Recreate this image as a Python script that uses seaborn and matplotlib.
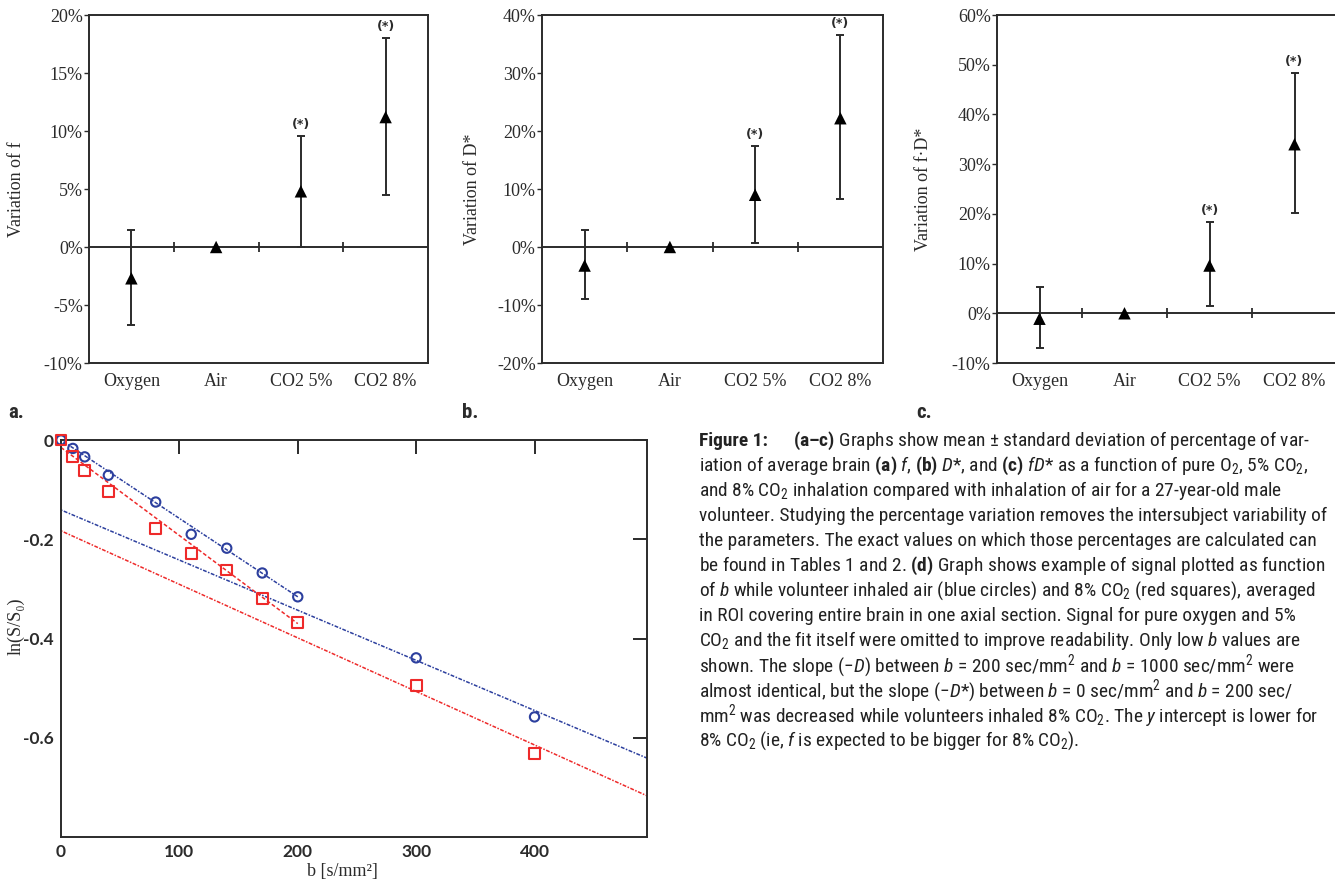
import matplotlib
matplotlib.use('Agg')
import matplotlib.pyplot as plt
import seaborn as sns
import pandas as pd
from matplotlib import font_manager as fm
from matplotlib.ticker import FuncFormatter, MultipleLocator

# ---- panels a-c : percentage variation vs. inhaled gas ----
conditions = ['Oxygen', 'Air', 'CO2 5%', 'CO2 8%']
significant = [False, False, True, True]

f_mean = [-2.7, 0.0, 4.8, 11.2]
f_low = [-6.7, 0.0, 0.0, 4.5]
f_high = [1.5, 0.0, 9.6, 18.0]

dstar_mean = [-3.2, 0.0, 9.0, 22.2]
dstar_low = [-9.0, 0.0, 0.7, 8.2]
dstar_high = [3.0, 0.0, 17.5, 36.5]

fdstar_mean = [-1.1, 0.0, 9.6, 34.0]
fdstar_low = [-6.9, 0.0, 1.5, 20.2]
fdstar_high = [5.2, 0.0, 18.3, 48.4]

# ---- panel d : ln(S/S0) vs b ----
b_values = [0, 10, 20, 40, 80, 110, 140, 170, 200, 300, 400]
ln_air = [0.0, -0.017, -0.034, -0.071, -0.125, -0.190, -0.218, -0.268, -0.316, -0.439, -0.558]
ln_co2 = [0.0, -0.034, -0.061, -0.104, -0.178, -0.228, -0.262, -0.320, -0.368, -0.494, -0.631]

# fitted lines (end points)
fit_b_low = [0, 200]
fit_air_low = [0.0, -0.316]
fit_co2_low = [-0.015, -0.370]
fit_b_high = [0, 495]
fit_air_high = [-0.141, -0.641]
fit_co2_high = [-0.183, -0.717]

caption_head = 'Figure 1:'
caption_lines = [
    r"$\mathbf{(a–c)}$ Graphs show mean ± standard deviation of percentage of var-",
    r"iation of average brain $\mathbf{(a)}$ $\mathit{f}$, $\mathbf{(b)}$ $\mathit{D}$*, and $\mathbf{(c)}$ $\mathit{fD}$* as a function of pure O$_2$, 5% CO$_2$,",
    r"and 8% CO$_2$ inhalation compared with inhalation of air for a 27-year-old male",
    r"volunteer. Studying the percentage variation removes the intersubject variability of",
    r"the parameters. The exact values on which those percentages are calculated can",
    r"be found in Tables 1 and 2. $\mathbf{(d)}$ Graph shows example of signal plotted as function",
    r"of $\mathit{b}$ while volunteer inhaled air (blue circles) and 8% CO$_2$ (red squares), averaged",
    r"in ROI covering entire brain in one axial section. Signal for pure oxygen and 5%",
    r"CO$_2$ and the fit itself were omitted to improve readability. Only low $\mathit{b}$ values are",
    r"shown. The slope (−$\mathit{D}$) between $\mathit{b}$ = 200 sec/mm$^2$ and $\mathit{b}$ = 1000 sec/mm$^2$ were",
    r"almost identical, but the slope (−$\mathit{D}$*) between $\mathit{b}$ = 0 sec/mm$^2$ and $\mathit{b}$ = 200 sec/",
    r"mm$^2$ was decreased while volunteers inhaled 8% CO$_2$. The $\mathit{y}$ intercept is lower for",
    r"8% CO$_2$ (ie, $\mathit{f}$ is expected to be bigger for 8% CO$_2$).",
]

sns.set_theme(style='white')
available = {f.name for f in fm.fontManager.ttflist}
cap_font = 'Liberation Sans'
for name in ['Liberation Sans Narrow', 'Roboto Condensed', 'Noto Sans Condensed',
             'Open Sans Condensed', 'Arial Narrow']:
    if name in available:
        cap_font = name
        break
serif = ['Liberation Serif', 'DejaVu Serif']
plt.rcParams['font.family'] = serif
plt.rcParams['mathtext.fontset'] = 'custom'
plt.rcParams['mathtext.rm'] = cap_font
plt.rcParams['mathtext.it'] = cap_font + ':italic'
plt.rcParams['mathtext.bf'] = cap_font + ':bold'

ink = '#2b2b2b'
blue = '#2c3f9e'
red = '#ee2a2a'

fig = plt.figure(figsize=(13.35, 8.82), dpi=100)
W, H = 1335, 882


def box(x0, y0, x1, y1):
    # pixel box (top-left origin) -> figure fraction rect
    return [x0 / W, 1 - y1 / H, (x1 - x0) / W, (y1 - y0) / H]


def draw_variation(ax, mean, low, high, ylim, step, ylabel, label_x):
    df = pd.DataFrame({'cond': conditions, 'mean': mean, 'low': low, 'high': high})
    sns.scatterplot(data=df, x='cond', y='mean', marker='^', color='black', s=80,
                    edgecolor='none', ax=ax, zorder=4, clip_on=False)
    ax.errorbar(x=conditions, y=df['mean'],
                yerr=[df['mean'] - df['low'], df['high'] - df['mean']],
                fmt='none', ecolor=ink, elinewidth=1.4, capsize=3, capthick=1.4, zorder=3)
    ax.axhline(0, color=ink, lw=1.4, zorder=2)
    span = ylim[1] - ylim[0]
    ax.vlines([0.5, 1.5, 2.5], -0.014 * span, 0.014 * span, color=ink, lw=1.3, zorder=2)
    for i, sig in enumerate(significant):
        if sig:
            ax.annotate('(*)', (i, high[i]), xytext=(0, 3.5), textcoords='offset points',
                        ha='center', va='bottom', fontsize=9, fontweight='bold',
                        family='DejaVu Sans', color=ink)
    ax.set_xlim(-0.5, 3.5)
    ax.set_ylim(*ylim)
    ax.yaxis.set_major_locator(MultipleLocator(step))
    ax.yaxis.set_major_formatter(FuncFormatter(lambda v, p: f'{v:.0f}%'))
    ax.tick_params(axis='x', length=0, pad=7, labelsize=13, colors=ink)
    ax.tick_params(axis='y', length=3.5, width=1, direction='out', left=True, labelsize=13,
                   colors=ink, pad=1)
    ax.set_xlabel('')
    ax.set_ylabel(ylabel, fontsize=13, color=ink)
    ax.yaxis.set_label_coords(label_x, 0.5)
    for s in ax.spines.values():
        s.set_color(ink)
        s.set_linewidth(1.4)


ax_a = fig.add_axes(box(89, 15, 428, 363))
draw_variation(ax_a, f_mean, f_low, f_high, (-10, 20), 5, 'Variation of f', -0.19)
ax_b = fig.add_axes(box(542, 15, 883, 363))
draw_variation(ax_b, dstar_mean, dstar_low, dstar_high, (-20, 40), 10, 'Variation of D*', -0.179)
ax_c = fig.add_axes(box(997, 15, 1337, 363))
draw_variation(ax_c, fdstar_mean, fdstar_low, fdstar_high, (-10, 60), 10, 'Variation of f·D*', -0.191)

for lbl, px in [('a.', 8), ('b.', 462), ('c.', 916)]:
    fig.text(px / W, 1 - 413 / H, lbl, fontsize=15, fontweight='bold', family=cap_font,
             ha='left', va='center', color=ink)

# ---- panel d ----
ax_d = fig.add_axes(box(61, 440, 647, 837))
line_style = (0, (1.0, 1.0, 2.5, 1.0))
sns.lineplot(x=fit_b_high, y=fit_air_high, color=blue, lw=1.1, linestyle=line_style, ax=ax_d)
sns.lineplot(x=fit_b_high, y=fit_co2_high, color=red, lw=1.1, linestyle=line_style, ax=ax_d)
sns.lineplot(x=fit_b_low, y=fit_air_low, color=blue, lw=1.1, linestyle=line_style, ax=ax_d)
sns.lineplot(x=fit_b_low, y=fit_co2_low, color=red, lw=1.1, linestyle=(0, (2.5, 1.5)), ax=ax_d)
sns.scatterplot(x=b_values, y=ln_air, marker='o', s=45, color=blue, facecolors='none',
                edgecolor=blue, linewidth=1.5, ax=ax_d, zorder=5, clip_on=False)
sns.scatterplot(x=b_values, y=ln_co2, marker='s', s=60, color=red, facecolors='none',
                edgecolor=red, linewidth=1.5, ax=ax_d, zorder=5, clip_on=False)
ax_d.set_xlim(0, 495)
ax_d.set_ylim(-0.8, 0)
ax_d.set_xticks([0, 100, 200, 300, 400])
ax_d.set_yticks([0, -0.2, -0.4, -0.6])
ax_d.yaxis.set_major_formatter(FuncFormatter(lambda v, p: '0' if abs(v) < 1e-9 else f'{v:.1f}'))
ax_d.tick_params(direction='in', length=10, width=1.4, top=True, right=True,
                 labelsize=12.5, colors=ink, pad=5)
for t in ax_d.get_xticklabels() + ax_d.get_yticklabels():
    t.set_fontfamily('Lato')
    t.set_fontweight('bold')
ax_d.set_xlabel('b [s/mm²]', fontsize=13, color=ink)
ax_d.set_ylabel('ln(S/S₀)', fontsize=13, color=ink)
ax_d.xaxis.set_label_coords(0.48, -0.066)
ax_d.yaxis.set_label_coords(-0.062, 0.53)
for s in ax_d.spines.values():
    s.set_color(ink)
    s.set_linewidth(1.4)

# ---- caption ----
x_cap = 699 / W
head = fig.text(x_cap, 1 - 441 / H, caption_head, fontsize=12, fontweight='bold',
                family=cap_font, ha='left', va='center', color='#222222')
texts = []
for i, line in enumerate(caption_lines):
    texts.append(fig.text(x_cap, 1 - (441 + 25 * i) / H, line, fontsize=12,
                          family=cap_font, ha='left', va='center', color='#222222'))
fig.canvas.draw()
renderer = fig.canvas.get_renderer()
head_w = head.get_window_extent(renderer).width
gap = 22
widths = [t.get_window_extent(renderer).width for t in texts]
widths[0] += head_w + gap
scale = 627 / max(widths)
head.set_fontsize(12 * scale)
for t in texts:
    t.set_fontsize(12 * scale)
texts[0].set_x(x_cap + (head_w + gap) * scale / W)

fig.savefig('out.png', dpi=100)
